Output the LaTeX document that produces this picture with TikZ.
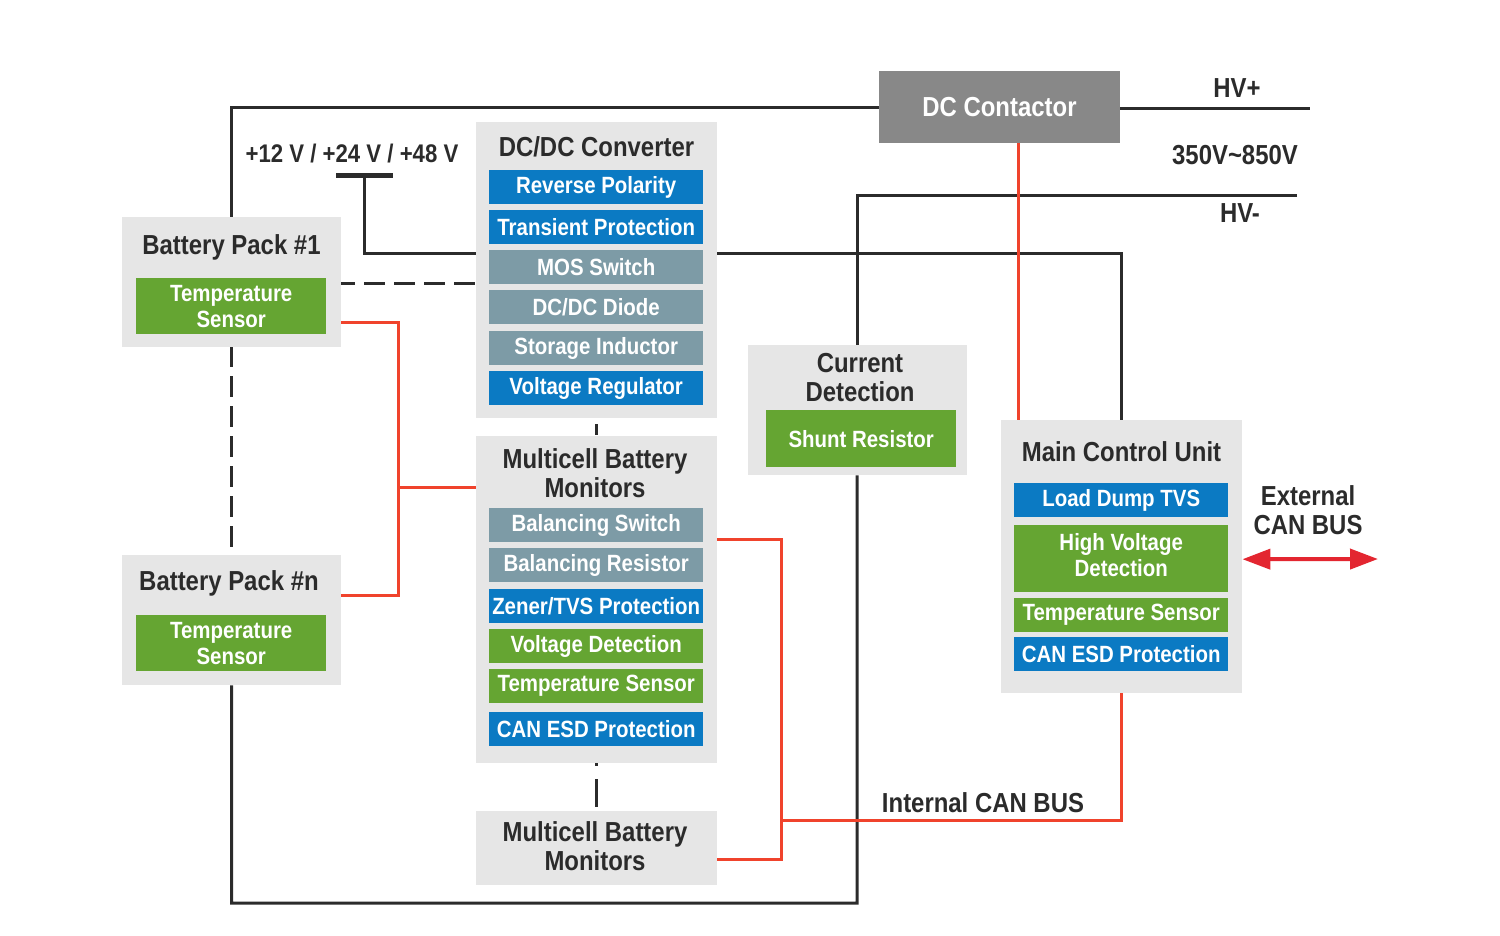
\documentclass[tikz,border=0pt]{standalone}
\usepackage{fontspec}
\setmainfont{Liberation Sans}[FakeStretch=0.87]
\usetikzlibrary{arrows.meta,calc}
\definecolor{panelgray}{HTML}{E6E6E6}
\definecolor{cblue}{HTML}{0B7AC3}
\definecolor{cgreen}{HTML}{65A532}
\definecolor{cslate}{HTML}{7D9BA6}
\definecolor{ccontact}{HTML}{888888}
\definecolor{cdark}{HTML}{2B2B2B}
\definecolor{cred}{HTML}{F0432C}
\definecolor{carrow}{HTML}{E32630}
\newcommand\ttlfont{\fontsize{27.5}{29}\selectfont\bfseries}
\newcommand\inrfont{\fontsize{23.5}{26}\selectfont\bfseries}
\begin{document}
\begin{tikzpicture}[x=1pt,y=-1pt,
  panel/.style={fill=panelgray, inner sep=0pt, anchor=north west, draw=none},
  inr/.style={inner sep=0pt, anchor=north west, minimum width=214pt, minimum height=34pt, text=white, font=\inrfont, align=center},
  bluebox/.style={inr, fill=cblue},
  greenbox/.style={inr, fill=cgreen},
  slatebox/.style={inr, fill=cslate},
  ttl/.style={font=\ttlfont, text=cdark, align=center, inner sep=0pt},
  wire/.style={draw=cdark, line width=3pt},
  redwire/.style={draw=cred, line width=3pt},
  dashwire/.style={draw=cdark, line width=3pt, dash pattern=on 21pt off 9pt}
]
\useasboundingbox (0,0) rectangle (1500,935);

% ---- panels ----
\node[panel, minimum width=241pt, minimum height=72pt, fill=ccontact, text=white, font=\ttlfont, anchor=center] (dcc) at (999.5,107) {DC Contactor};

\node[panel, minimum width=219pt, minimum height=130pt] (bp1) at (122,217) {};
\node[ttl] (bp1t) at (231.5,247) {Battery Pack \#1};
\node[greenbox, minimum width=190pt, minimum height=56pt] (ts1) at (136,278) {Temperature\\Sensor};

\node[panel, minimum width=219pt, minimum height=130pt] (bpn) at (122,555) {};
\node[ttl] (bpnt) at (229,583) {Battery Pack \#n};
\node[greenbox, minimum width=190pt, minimum height=56pt] (ts2) at (136,615) {Temperature\\Sensor};

\node[panel, minimum width=241pt, minimum height=296pt] (dcdc) at (476,122) {};
\node[ttl] (dcdct) at (596.5,147) {DC/DC Converter};
\node[bluebox] (rp) at (489,170) {Reverse Polarity};
\node[bluebox] (tp) at (489,210) {Transient Protection};
\node[slatebox] (ms) at (489,250) {MOS Switch};
\node[slatebox] (dd) at (489,290) {DC/DC Diode};
\node[slatebox] (si) at (489,331) {Storage Inductor};
\node[bluebox] (vr) at (489,371) {Voltage Regulator};

\node[panel, minimum width=241pt, minimum height=327pt] (mcb1) at (476,436) {};
\node[ttl] (mcb1t) at (595,473) {Multicell Battery\\Monitors};
\node[slatebox] (bs) at (489,508) {Balancing Switch};
\node[slatebox] (br) at (489,548) {Balancing Resistor};
\node[bluebox] (zt) at (489,589) {Zener/TVS Protection};
\node[greenbox] (vd) at (489,629) {Voltage Detection};
\node[greenbox] (mts) at (489,669) {Temperature Sensor};
\node[bluebox] (mce) at (489,712) {CAN ESD Protection};

\node[panel, minimum width=241pt, minimum height=74pt] (mcb2) at (476,811) {};
\node[ttl] (mcb2t) at (595,846) {Multicell Battery\\Monitors};

\node[panel, minimum width=219pt, minimum height=130pt] (cur) at (747.5,345) {};
\node[ttl] (curt) at (860,378) {Current\\Detection};
\node[greenbox, minimum width=190pt, minimum height=57pt] (sr) at (766,410) {Shunt Resistor};

\node[panel, minimum width=241pt, minimum height=273pt] (mcu) at (1001,420) {};
\node[ttl] (mcut) at (1121.5,452) {Main Control Unit};
\node[bluebox] (ld) at (1014,483) {Load Dump TVS};
\node[greenbox, minimum height=67pt, text depth=8pt] (hvd) at (1014,525) {High Voltage\\Detection};
\node[greenbox] (uts) at (1014,598) {Temperature Sensor};
\node[bluebox] (uce) at (1014,637) {CAN ESD Protection};

% ---- labels ----
\node[ttl, font=\fontsize{25.5}{28}\selectfont\bfseries] (vlab) at (352,154) {+12 V / +24 V / +48 V};
\node[ttl] (hvpl) at (1237,88) {HV+};
\node[ttl] (rng) at (1235,155) {350V\textasciitilde850V};
\node[ttl] (hvml) at (1240,213) {HV-};
\node[ttl] (ext) at (1308,510) {External\\CAN BUS};
\node[ttl] (icb) at (983,803) {Internal CAN BUS};

\node[fill=cdark, minimum width=57pt, minimum height=5pt, inner sep=0pt] (bar) at (364.5,175) {};

% ---- coordinates ----
\coordinate (hvp) at (1310,108);
\coordinate (hvm) at (1297,195);
\coordinate (bus) at (365,253);
\coordinate (bl) at (231.5,903);
\coordinate (rj) at (398,487);
\coordinate (rk) at (781,820);
\coordinate (extend) at (1378,559);

% ---- black wires ----
\draw[wire] (dcc.west) -| (bp1.north);
\draw[wire] (dcc.east |- hvp) -- (hvp);
\draw[wire] (hvm) -| (cur.north);
\draw[wire] (cur.south) |- (bl) -- (bpn.south);
\draw[wire] (bar.south) |- (dcdc.west |- bus);
\draw[wire] (dcdc.east |- bus) -| (mcu.north);
\draw[dashwire, dash phase=7pt] ([yshift=-1pt]bp1.east) -- ([yshift=-1pt]bp1.east -| dcdc.west);
\draw[dashwire, dash phase=1pt] (bp1.south) -- (bpn.north);
\draw[wire, dash pattern=on 0pt off 6pt on 11pt off 20pt] (dcdc.south) -- (mcb1.north);
\draw[wire, dash pattern=on 3pt off 13pt on 28pt off 20pt] (mcb1.south) -- (mcb2.north);

% ---- red wires ----
\draw[redwire] ([xshift=18.5pt]dcc.south) -- ([xshift=18.5pt]dcc.south |- mcu.north);
\draw[redwire] ([yshift=-40pt]bp1.east) -| (rj) |- ([yshift=25pt]bpn.east);
\draw[redwire] (rj) -- (rj -| mcb1.west);
\draw[redwire] ([yshift=60.5pt]mcb1.east) -| (rk) |- ([yshift=-11pt]mcb2.east);
\draw[redwire] (rk) -| (mcu.south);
\draw[draw=carrow, line width=4pt, {Triangle[length=28pt,width=20pt]}-{Triangle[length=28pt,width=20pt]}] ([yshift=-2.5pt]mcu.east) -- (extend);
\end{tikzpicture}
\end{document}
